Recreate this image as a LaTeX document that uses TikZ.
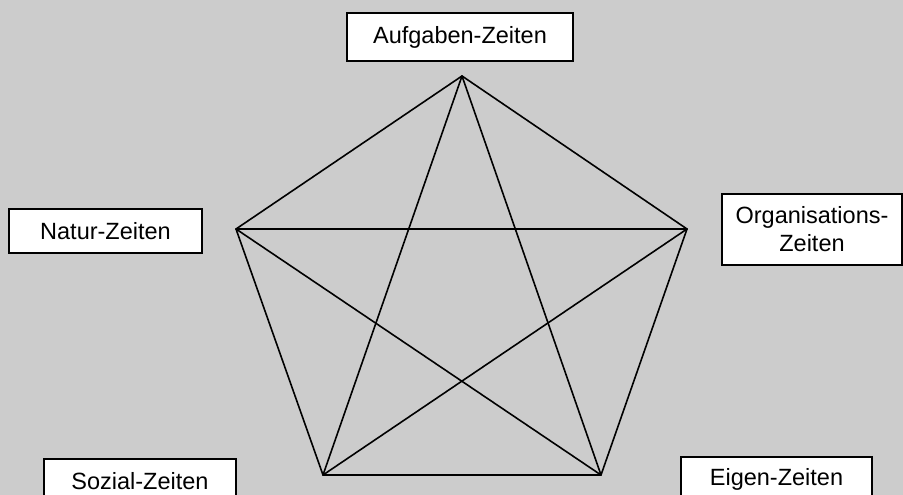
\documentclass[tikz,border=0pt]{standalone}
\usepackage{fontspec}
\setmainfont{Liberation Sans}
\definecolor{bg}{RGB}{204,204,204}
\begin{document}
\begin{tikzpicture}[x=1bp,y=-1bp,
  labelbox/.style={draw=black, line width=1.5bp, fill=white, inner sep=0pt, align=center,
    font=\fontsize{23.5bp}{28bp}\selectfont},
  edge/.style={line width=1.6bp, line cap=round, line join=round}]
\useasboundingbox (0,0) rectangle (903,495);
\fill[bg] (0,0) rectangle (903,495);
\clip (0,0) rectangle (903,495);
% label boxes
\node[labelbox, minimum width=226bp, minimum height=48bp] (auf) at (460,37) {Aufgaben-Zeiten};
\node[labelbox, minimum width=193bp, minimum height=44bp] (natur) at (105.5,231) {Natur-Zeiten};
\node[labelbox, minimum width=180bp, minimum height=71bp] (org) at (812,229.5) {Organisations-\\Zeiten};
\node[labelbox, minimum width=192bp, minimum height=44bp] (sozial) at (140,481) {Sozial-Zeiten};
\node[labelbox, minimum width=191bp, minimum height=44bp] (eigen) at (776.5,479) {Eigen-Zeiten};
% pentagon vertices
\coordinate (T) at (462,76);
\coordinate (L) at (236,229);
\coordinate (R) at (687,229);
\coordinate (BL) at (323,475);
\coordinate (BR) at (601,475);
% pentagon
\draw[edge] (T) -- (R) -- (BR) -- (BL) -- (L) -- cycle;
% star
\draw[edge] (T) -- (BL);
\draw[edge] (T) -- (BR);
\draw[edge] (L) -- (R);
\draw[edge] (L) -- (BR);
\draw[edge] (R) -- (BL);
\end{tikzpicture}
\end{document}
